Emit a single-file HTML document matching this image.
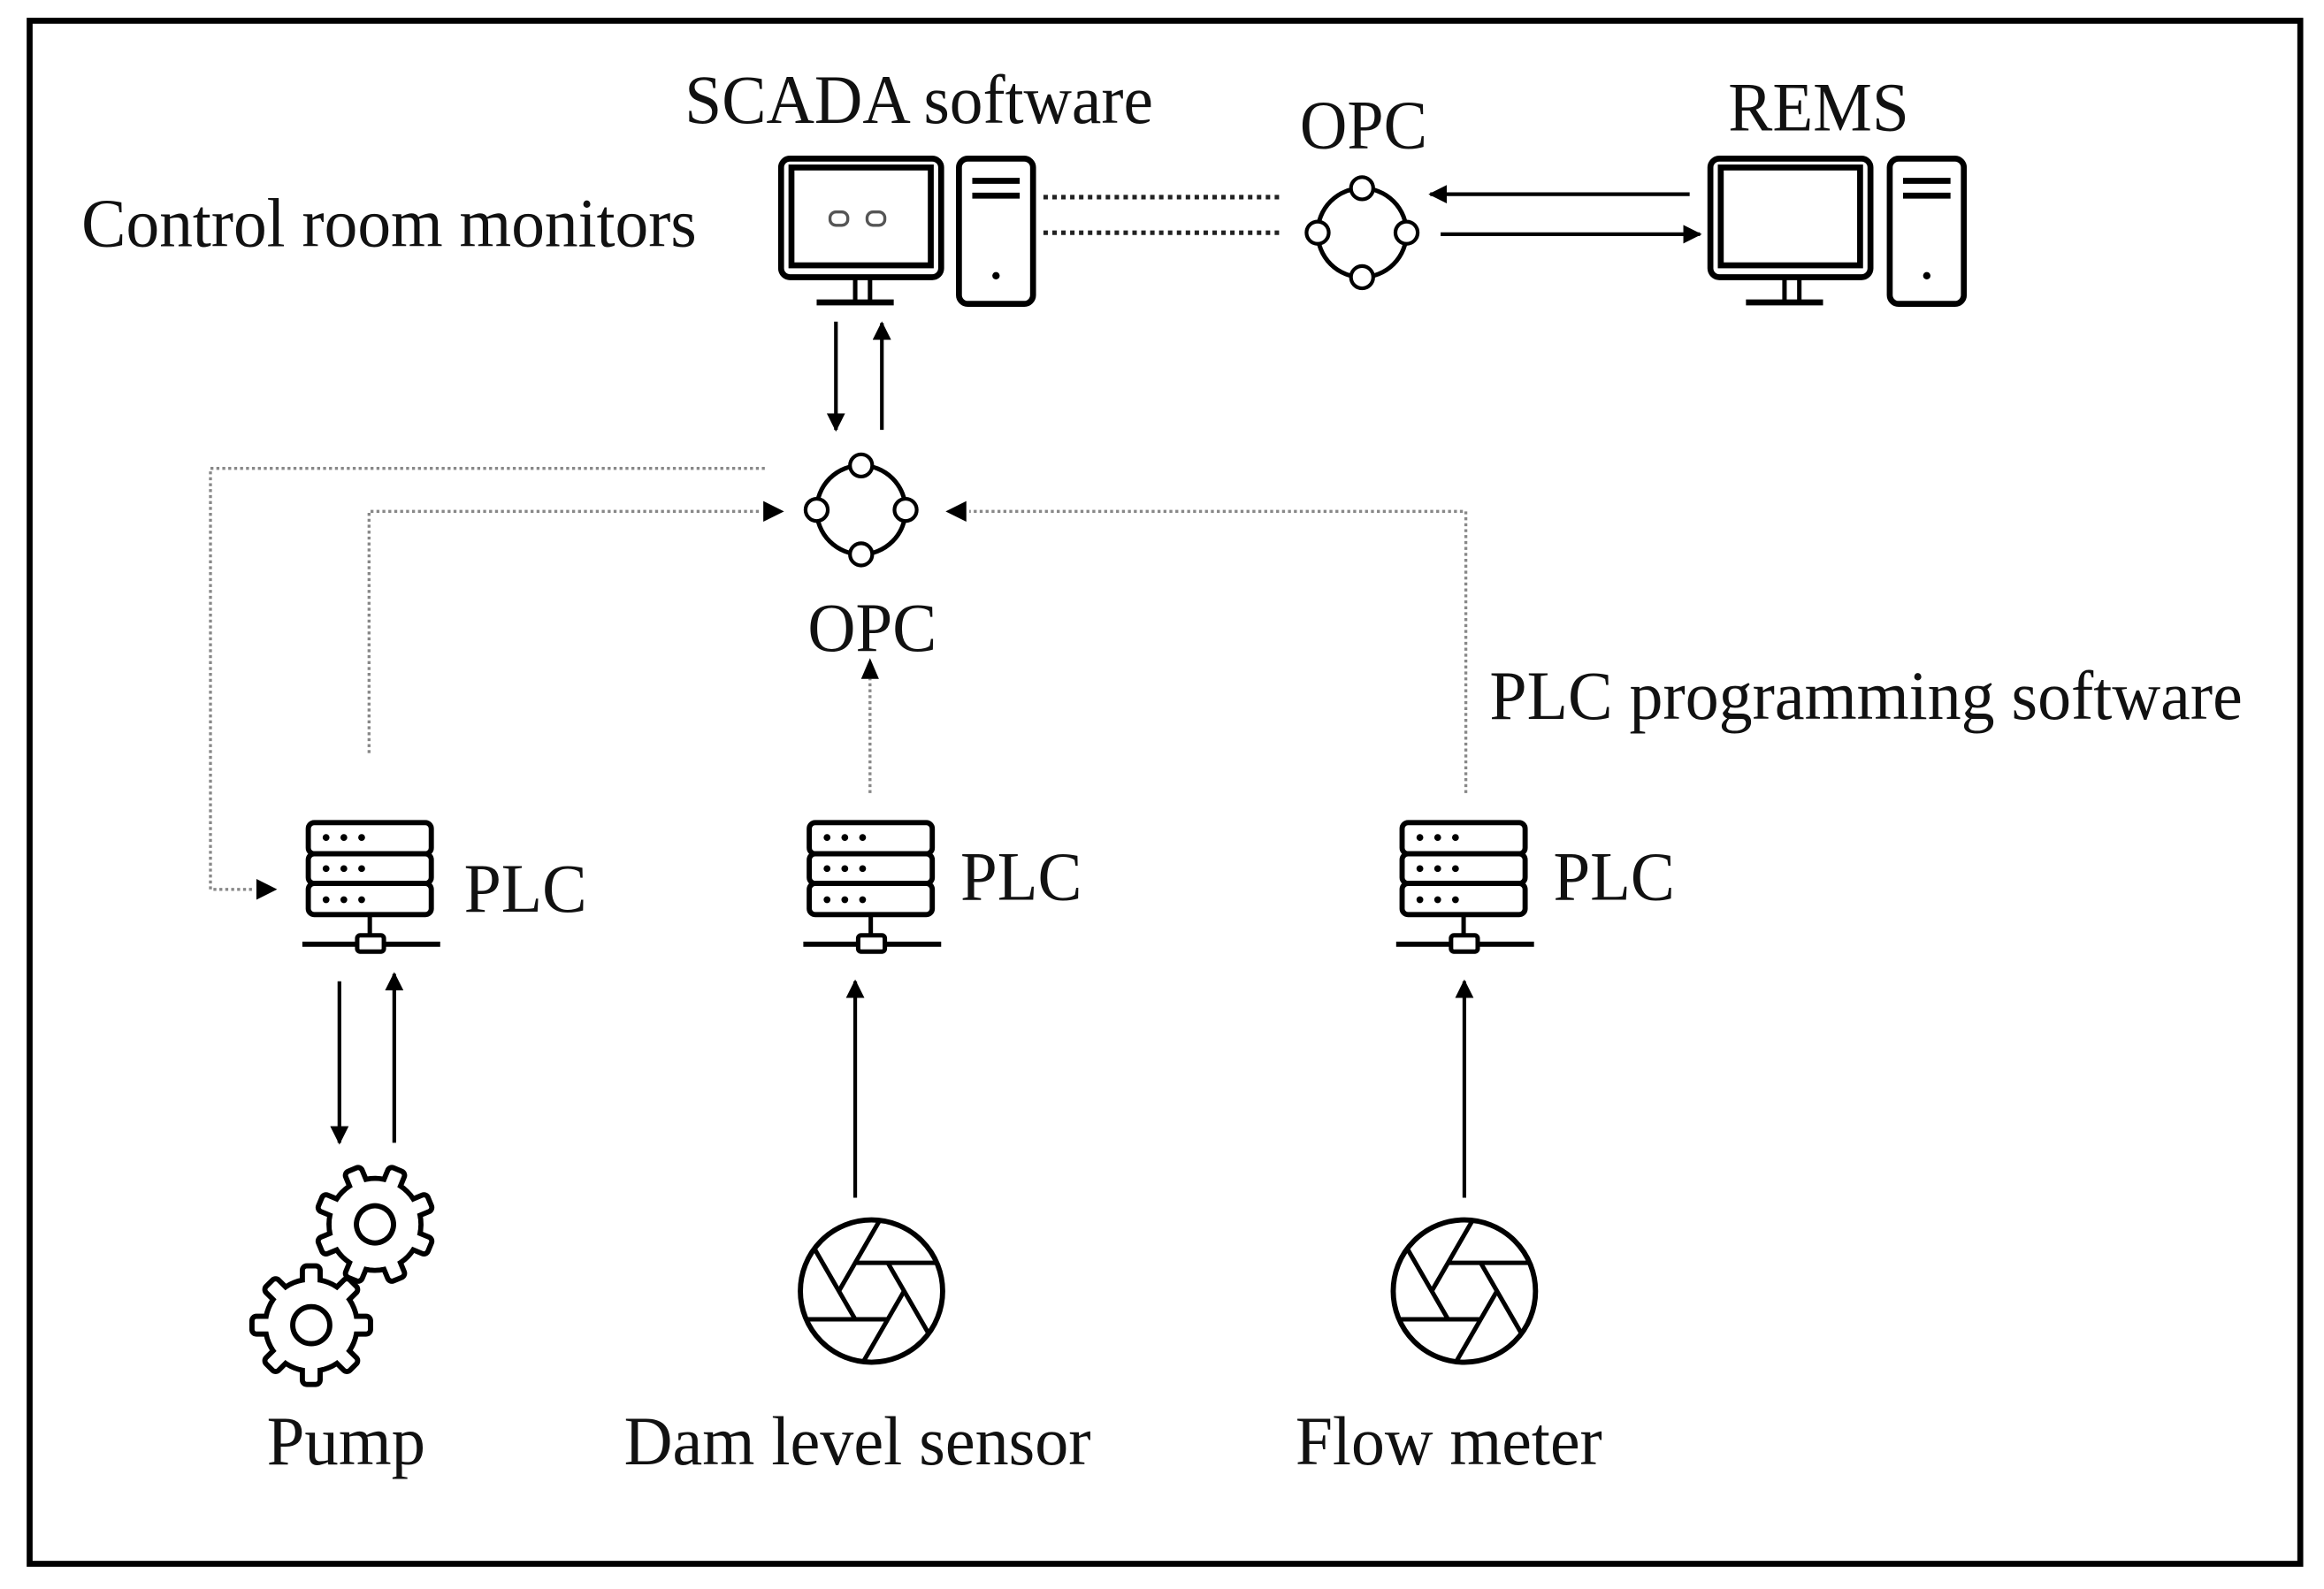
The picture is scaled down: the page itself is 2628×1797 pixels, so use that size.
<!DOCTYPE html>
<html><head><meta charset="utf-8"><style>html,body{margin:0;padding:0;background:#fff}svg{display:block}</style></head>
<body>
<svg width="2628" height="1797" viewBox="0 0 1568 1072" preserveAspectRatio="none" xmlns="http://www.w3.org/2000/svg">
<defs>
<marker id="ah" viewBox="0 0 10 10" refX="9" refY="5" markerWidth="5" markerHeight="5" orient="auto" markerUnits="strokeWidth"><path d="M0,0 L10,5 L0,10 z" fill="#000"/></marker>
<g id="mon">
<rect x="0" y="0" width="108" height="80" rx="6" fill="#fff" stroke="#000" stroke-width="4"/>
<rect x="7" y="6" width="94" height="66" fill="none" stroke="#000" stroke-width="4"/>
<line x1="50" y1="80" x2="50" y2="96" stroke="#000" stroke-width="3"/>
<line x1="60" y1="80" x2="60" y2="96" stroke="#000" stroke-width="3"/>
<line x1="24" y1="97" x2="76" y2="97" stroke="#000" stroke-width="4"/>
</g>
<g id="tower">
<rect x="0" y="0" width="50" height="98" rx="6" fill="#fff" stroke="#000" stroke-width="4"/>
<line x1="9" y1="15" x2="41" y2="15" stroke="#000" stroke-width="4"/>
<line x1="9" y1="25" x2="41" y2="25" stroke="#000" stroke-width="4"/>
<circle cx="25" cy="79" r="2.5" fill="#000"/>
</g>
<g id="opc">
<circle cx="0" cy="0" r="30" fill="none" stroke="#000" stroke-width="3"/>
<g fill="#fff" stroke="#000" stroke-width="2.5">
<circle cx="0" cy="-30" r="7.5"/><circle cx="0" cy="30" r="7.5"/><circle cx="-30" cy="0" r="7.5"/><circle cx="30" cy="0" r="7.5"/>
</g>
</g>
<g id="plc">
<rect x="0" y="0" width="83" height="21" rx="4" fill="#fff" stroke="#000" stroke-width="3.5"/>
<rect x="0" y="21" width="83" height="20" rx="4" fill="#fff" stroke="#000" stroke-width="3.5"/>
<rect x="0" y="41" width="83" height="21" rx="4" fill="#fff" stroke="#000" stroke-width="3.5"/>
<g fill="#000"><circle cx="12" cy="10" r="2.3"/><circle cx="24" cy="10" r="2.3"/><circle cx="36" cy="10" r="2.3"/>
<circle cx="12" cy="31" r="2.3"/><circle cx="24" cy="31" r="2.3"/><circle cx="36" cy="31" r="2.3"/>
<circle cx="12" cy="52" r="2.3"/><circle cx="24" cy="52" r="2.3"/><circle cx="36" cy="52" r="2.3"/></g>
<line x1="41.5" y1="62" x2="41.5" y2="76" stroke="#000" stroke-width="3"/>
<line x1="-4" y1="82" x2="89" y2="82" stroke="#000" stroke-width="3.5"/>
<rect x="33" y="76" width="18" height="11" rx="2" fill="#fff" stroke="#000" stroke-width="3"/>
</g>
<g id="ap">
<circle cx="0" cy="0" r="48" fill="none" stroke="#000" stroke-width="3.5"/>
<g stroke="#000" stroke-width="3">
<line x1="-11" y1="-19.05" x2="44.06" y2="-19.05"/>
<line x1="-11" y1="-19.05" x2="44.06" y2="-19.05" transform="rotate(60)"/>
<line x1="-11" y1="-19.05" x2="44.06" y2="-19.05" transform="rotate(120)"/>
<line x1="-11" y1="-19.05" x2="44.06" y2="-19.05" transform="rotate(180)"/>
<line x1="-11" y1="-19.05" x2="44.06" y2="-19.05" transform="rotate(240)"/>
<line x1="-11" y1="-19.05" x2="44.06" y2="-19.05" transform="rotate(300)"/>
</g>
</g>
<rect id="tooth" x="-6" y="-40" width="12" height="14" rx="3" fill="#fff" stroke="#000" stroke-width="3.5"/>
<g id="gear">
<circle r="31" fill="#fff" stroke="#000" stroke-width="3.5"/>
<use href="#tooth"/><use href="#tooth" transform="rotate(45)"/><use href="#tooth" transform="rotate(90)"/><use href="#tooth" transform="rotate(135)"/>
<use href="#tooth" transform="rotate(180)"/><use href="#tooth" transform="rotate(225)"/><use href="#tooth" transform="rotate(270)"/><use href="#tooth" transform="rotate(315)"/>
<circle r="29.3" fill="#fff"/>
<circle r="12.5" fill="none" stroke="#000" stroke-width="3.5"/>
</g>
</defs>

<rect x="20" y="14" width="1532" height="1041" fill="#fff" stroke="#000" stroke-width="4"/>

<g font-family="Liberation Serif, serif" font-size="47" fill="#111">
<text x="462" y="83" textLength="316" lengthAdjust="spacingAndGlyphs">SCADA software</text>
<text x="877" y="100" textLength="86" lengthAdjust="spacingAndGlyphs">OPC</text>
<text x="1166" y="88" textLength="122" lengthAdjust="spacingAndGlyphs">REMS</text>
<text x="55" y="166" textLength="415" lengthAdjust="spacingAndGlyphs">Control room monitors</text>
<text x="545" y="439" textLength="87" lengthAdjust="spacingAndGlyphs">OPC</text>
<text x="1005" y="485" textLength="508" lengthAdjust="spacingAndGlyphs">PLC programming software</text>
<text x="313" y="615" textLength="83" lengthAdjust="spacingAndGlyphs">PLC</text>
<text x="648" y="607" textLength="82" lengthAdjust="spacingAndGlyphs">PLC</text>
<text x="1048" y="607" textLength="82" lengthAdjust="spacingAndGlyphs">PLC</text>
<text x="180" y="988" textLength="107" lengthAdjust="spacingAndGlyphs">Pump</text>
<text x="421" y="988" textLength="315" lengthAdjust="spacingAndGlyphs">Dam level sensor</text>
<text x="874" y="988" textLength="207" lengthAdjust="spacingAndGlyphs">Flow meter</text>
</g>

<use href="#mon" x="527" y="107"/>
<rect x="560" y="143" width="12" height="9" rx="4" fill="none" stroke="#555" stroke-width="2"/>
<rect x="585" y="143" width="12" height="9" rx="4" fill="none" stroke="#555" stroke-width="2"/>
<use href="#tower" x="647" y="107"/>
<use href="#mon" x="1154" y="107"/>
<use href="#tower" x="1275" y="107"/>
<g stroke="#222" stroke-width="3" stroke-dasharray="3,3">
<line x1="704" y1="133" x2="866" y2="133"/>
<line x1="704" y1="157" x2="866" y2="157"/>
</g>
<use href="#opc" x="919" y="157"/>
<g stroke="#000" stroke-width="2.5">
<line x1="1140" y1="131" x2="965" y2="131" marker-end="url(#ah)"/>
<line x1="972" y1="158" x2="1147" y2="158" marker-end="url(#ah)"/>
<line x1="564" y1="217" x2="564" y2="290" marker-end="url(#ah)"/>
<line x1="595" y1="290" x2="595" y2="218" marker-end="url(#ah)"/>
</g>

<use href="#opc" x="581" y="344"/>

<g stroke="#888" stroke-width="2" stroke-dasharray="2,2" fill="none">
<polyline points="516,316 142,316 142,600 170,600"/>
<polyline points="249,508 249,345 512,345"/>
<polyline points="989,535 989,345 654,345"/>
<line x1="587" y1="535" x2="587" y2="458"/>
</g>
<g fill="#000">
<path d="M187,600 L173,593 L173,607 z"/>
<path d="M529,345 L515,338 L515,352 z"/>
<path d="M638,345 L652,338 L652,352 z"/>
<path d="M587,444 L581,458 L593,458 z"/>
</g>

<use href="#plc" x="208" y="555"/>
<use href="#plc" x="546" y="555"/>
<use href="#plc" x="946" y="555"/>

<g stroke="#000" stroke-width="2.5">
<line x1="229" y1="662" x2="229" y2="771" marker-end="url(#ah)"/>
<line x1="266" y1="771" x2="266" y2="657" marker-end="url(#ah)"/>
<line x1="577" y1="808" x2="577" y2="662" marker-end="url(#ah)"/>
<line x1="988" y1="808" x2="988" y2="662" marker-end="url(#ah)"/>
</g>

<use href="#gear" transform="translate(253,826) rotate(22.5)"/>
<use href="#gear" transform="translate(210,894) rotate(0)"/>

<use href="#ap" x="588" y="871"/>
<use href="#ap" x="988" y="871"/>
</svg>
</body></html>
